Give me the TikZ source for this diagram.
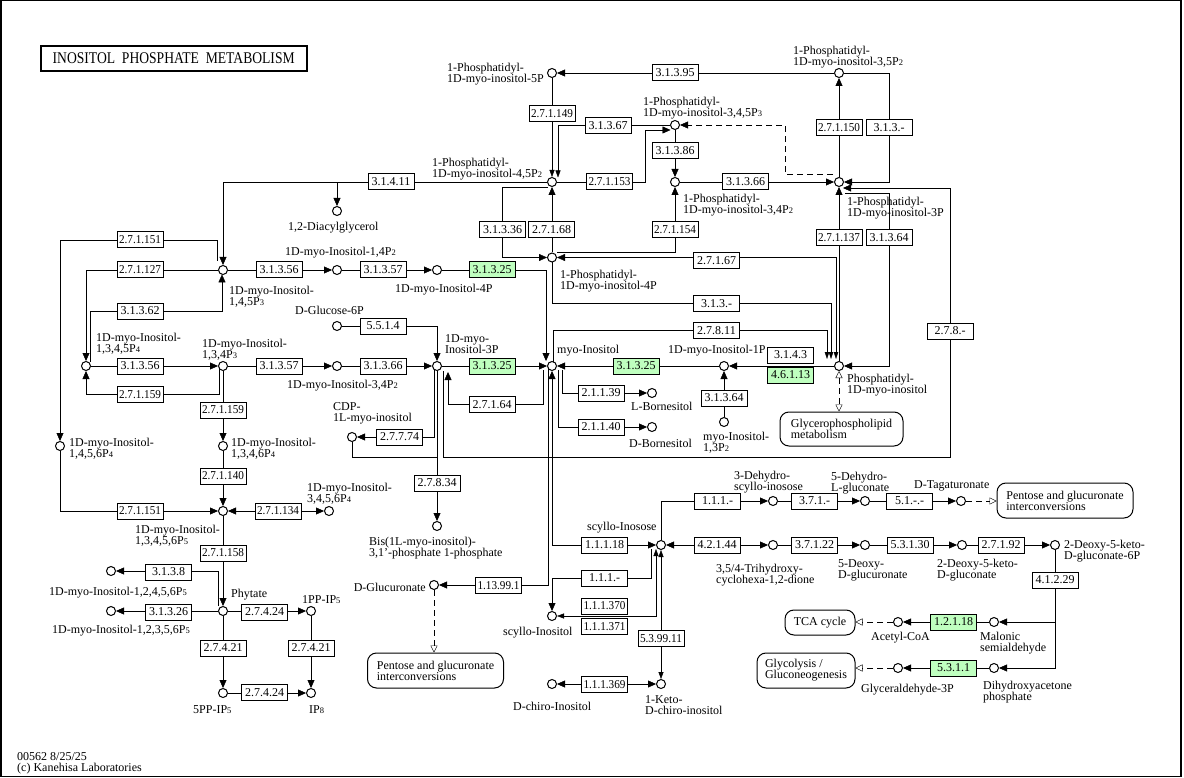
\documentclass[tikz,border=0pt]{standalone}
\usepackage{fontspec}
\setmainfont{Liberation Serif}
\usetikzlibrary{arrows.meta,calc,backgrounds}
\definecolor{kgreen}{RGB}{191,255,191}
\newsavebox\ecbox
\newcommand\ecx[1]{\sbox\ecbox{#1}\ifdim\wd\ecbox>42pt\resizebox{42pt}{\height}{\usebox\ecbox}\else\usebox\ecbox\fi}
\newcommand\sbs[1]{{\fontsize{8.5}{8}\selectfont #1}}
\newcommand\KC[2]{\node[cpd] (#1) at (#2) {};}
\newcommand\KE[3]{\node[enz] (#1) at (#2) {\ecx{#3}};}
\newcommand\KG[3]{\node[genz] (#1) at (#2) {\ecx{#3}};}
\tikzset{
 every node/.append style={font=\fontsize{12}{11}\selectfont},
 cpd/.style={circle,draw,fill=white,minimum size=9pt,inner sep=0pt,line width=1pt},
 enz/.style={draw,fill=white,minimum width=46pt,minimum height=16pt,inner sep=0pt,line width=1pt},
 genz/.style={enz,fill=kgreen},
 mapb/.style={draw,fill=white,rounded corners=9pt,align=left,inner sep=0pt,line width=1pt},
 lbl/.style={inner sep=0pt,align=left,anchor=north west},
 cn/.style={line width=1.2pt,sharp corners},
 dsh/.style={dash pattern=on 6pt off 4pt},
 nar/.style={-{Triangle[length=7pt,width=5pt]}},
 tar/.style={-{Triangle[length=7pt,width=4.5pt]}},
 nrr/.style={{Triangle[length=7pt,width=5pt]}-{Triangle[length=7pt,width=5pt]}},
 oa/.style={dsh,-{Triangle[open,length=7pt,width=7pt]}},
 ooa/.style={dsh,{Triangle[open,length=7pt,width=7pt]}-{Triangle[open,length=7pt,width=7pt]}}
}
\begin{document}
\begin{tikzpicture}[x=1pt,y=-1pt,>={Triangle[length=8pt,width=7pt]}]
\useasboundingbox (0,0) rectangle (1184,778);
\draw[line width=1.5pt] (0.75,0.75) rectangle (1181,776.5);
\node[draw,line width=2pt,minimum width=266pt,minimum height=25pt,inner sep=0pt] (title) at (173.7,58.3) {\fontsize{13.6}{14}\selectfont\scalebox{1}[1.2]{INOSITOL\ \ PHOSPHATE\ \ METABOLISM}};
\node[lbl] (foot) at (17,752) {00562 8/25/25\\(c) Kanehisa Laboratories};
% compounds
\KC{c5P}{552,73} \KC{c35P2}{839,73} \KC{cPIP3}{675,125} \KC{cPIP2}{552,182}
\KC{c34P2}{675,182} \KC{cPI3P}{839,182} \KC{cPI4P}{552,257.5} \KC{cPI}{839,366}
\KC{cMyo}{552,366} \KC{c1P}{724,366} \KC{c13P2}{724,422} \KC{cLB}{652,393}
\KC{cDB}{652,427} \KC{cDAG}{337,211} \KC{cIP3}{223,270} \KC{c14P2}{337,270}
\KC{c4P}{437,270} \KC{cG6P}{337,326} \KC{cIP1345}{86,366} \KC{cIP134}{223,366}
\KC{c34P}{337,366} \KC{c3P}{437,366} \KC{cIP1456}{60,446} \KC{cIP1346}{223,446}
\KC{cIP13456}{223,511} \KC{cIP3456}{329,511} \KC{cPhy}{223,611} \KC{c1PP}{311,611}
\KC{c5PP}{223,693} \KC{cIP8}{311,693} \KC{c12456}{111,571} \KC{c12356}{111,611}
\KC{cCDP}{352,437} \KC{cBis}{437,526} \KC{cGlcA}{434,585} \KC{cSInos}{661,545}
\KC{cSIol}{552,616} \KC{cKeto}{661,684} \KC{cChiro}{552,684} \KC{cTri}{773,545}
\KC{cDehy}{773,501} \KC{c5DLG}{865,501} \KC{cTag}{961,501} \KC{c5DG}{865,545}
\KC{c2D5K}{962,545} \KC{c2D5K6P}{1055,545} \KC{cMal}{994,622} \KC{cAcCoA}{898,622}
\KC{cDHAP}{994,668} \KC{cGA3P}{898,668}
% enzymes
\KE{e31395}{675,73}{3.1.3.95} \KE{e271149}{552,114}{2.7.1.149} \KE{e31367}{608,126}{3.1.3.67}
\KE{e31386}{675,150.5}{3.1.3.86} \KE{e271153}{609.5,182}{2.7.1.153} \KE{e31366a}{745.5,182}{3.1.3.66}
\KE{e31411}{391,182}{3.1.4.11} \KE{e31336}{502.5,229.5}{3.1.3.36} \KE{e27168}{551.5,229.5}{2.7.1.68}
\KE{e271154}{675,229.5}{2.7.1.154} \KE{e271150}{839,128}{2.7.1.150} \KE{e313xa}{889,128}{3.1.3.-}
\KE{e271137}{839,238}{2.7.1.137} \KE{e31364a}{889,238}{3.1.3.64} \KE{e27167}{716.5,260.5}{2.7.1.67}
\KE{e313xb}{716.5,303.5}{3.1.3.-} \KE{e27811}{716.5,330.5}{2.7.8.11} \KE{e3143}{790.5,355}{3.1.4.3}
\KG{e46113}{790.5,375}{4.6.1.13} \KG{e31325c}{636,366}{3.1.3.25} \KE{e278x}{950,331}{2.7.8.-}
\KE{e31364b}{724,398}{3.1.3.64} \KE{e271151a}{140,240}{2.7.1.151} \KE{e271127}{140,270}{2.7.1.127}
\KE{e31356a}{279,270}{3.1.3.56} \KE{e31357a}{383,270}{3.1.3.57} \KG{e31325a}{492,270}{3.1.3.25}
\KE{e31362}{140,311}{3.1.3.62} \KE{e5514}{383,326}{5.5.1.4} \KE{e31356b}{140,366}{3.1.3.56}
\KE{e31357b}{279,366}{3.1.3.57} \KE{e31366b}{383,366}{3.1.3.66} \KG{e31325b}{492,366}{3.1.3.25}
\KE{e271159a}{140,394.5}{2.7.1.159} \KE{e271159b}{223,410}{2.7.1.159} \KE{e271140}{223,476}{2.7.1.140}
\KE{e271151b}{140,511}{2.7.1.151} \KE{e271134}{278,511}{2.7.1.134} \KE{e271158}{223,553}{2.7.1.158}
\KE{e3138}{168.5,572}{3.1.3.8} \KE{e31326}{168.5,612}{3.1.3.26} \KE{e27424a}{264.5,612}{2.7.4.24}
\KE{e27421a}{223,648}{2.7.4.21} \KE{e27421b}{311,648}{2.7.4.21} \KE{e27424b}{264.5,692.5}{2.7.4.24}
\KE{e27164}{492,404.5}{2.7.1.64} \KE{e21139}{601,393}{2.1.1.39} \KE{e21140}{601,427}{2.1.1.40}
\KE{e27774}{399.5,437}{2.7.7.74} \KE{e27834}{437,483}{2.7.8.34} \KE{e113991}{498.5,585.5}{1.13.99.1}
\KE{e11118}{604.5,545}{1.1.1.18} \KE{e111xa}{604.5,578}{1.1.1.-} \KE{e111370}{604.5,606}{1.1.1.370}
\KE{e111371}{604.5,626.5}{1.1.1.371} \KE{e53911}{661,638.5}{5.3.99.11} \KE{e111369}{604.5,684.5}{1.1.1.369}
\KE{e42144}{717,545}{4.2.1.44} \KE{e111xb}{717.5,501}{1.1.1.-} \KE{e371x}{814.5,501}{3.7.1.-}
\KE{e51xx}{909.5,501}{5.1.-.-} \KE{e37122}{814.5,545}{3.7.1.22} \KE{e53130}{910,545}{5.3.1.30}
\KE{e27192}{1001,545}{2.7.1.92} \KE{e41229}{1055,580}{4.1.2.29} \KG{e12118}{953.5,622}{1.2.1.18}
\KG{e5311}{953.5,668}{5.3.1.1}
% maps
\node[mapb,minimum width=136pt,minimum height=35pt] (mPG1) at (1065,500.5) {Pentose and glucuronate\\interconversions};
\node[mapb,minimum width=136pt,minimum height=35pt] (mPG2) at (435.5,670.5) {Pentose and glucuronate\\interconversions};
\node[mapb,minimum width=123pt,minimum height=34pt] (mGPL) at (841.5,429) {Glycerophospholipid\\metabolism};
\node[mapb,minimum width=70pt,minimum height=25pt] (mTCA) at (820,622.5) {TCA cycle};
\node[mapb,minimum width=98pt,minimum height=35pt] (mGly) at (806,670.5) {Glycolysis /\\Gluconeogenesis};
% labels
\node[lbl] (l5P) at (447,62.5) {1-Phosphatidyl-\\1D-myo-inositol-5P};
\node[lbl] (l35P2) at (793,45.5) {1-Phosphatidyl-\\1D-myo-inositol-3,5P\sbs{2}};
\node[lbl] (lPIP3) at (643,97) {1-Phosphatidyl-\\1D-myo-inositol-3,4,5P\sbs{3}};
\node[lbl] (lPIP2) at (432,157.5) {1-Phosphatidyl-\\1D-myo-inositol-4,5P\sbs{2}};
\node[lbl] (l34P2) at (683,194) {1-Phosphatidyl-\\1D-myo-inositol-3,4P\sbs{2}};
\node[lbl] (lPI3P) at (847,196.5) {1-Phosphatidyl-\\1D-myo-inositol-3P};
\node[lbl] (lPI4P) at (560,269.5) {1-Phosphatidyl-\\1D-myo-inositol-4P};
\node[lbl] (lPI) at (847,374) {Phosphatidyl-\\1D-myo-inositol};
\node[lbl] (lMyo) at (557,345) {myo-Inositol};
\node[lbl] (l1P) at (668,345) {1D-myo-Inositol-1P};
\node[lbl] (l13P2) at (703,431.5) {myo-Inositol-\\1,3P\sbs{2}};
\node[lbl] (l3P) at (445,334.5) {1D-myo-\\Inositol-3P};
\node[lbl] (l4P) at (395,283.5) {1D-myo-Inositol-4P};
\node[lbl] (lLB) at (631,401.5) {L-Bornesitol};
\node[lbl] (lDB) at (629,439) {D-Bornesitol};
\node[lbl] (lDAG) at (288,222) {1,2-Diacylglycerol};
\node[lbl] (lIP3) at (229,285.5) {1D-myo-Inositol-\\1,4,5P\sbs{3}};
\node[lbl] (l14P2) at (285,246.5) {1D-myo-Inositol-1,4P\sbs{2}};
\node[lbl] (lG6P) at (295,306) {D-Glucose-6P};
\node[lbl] (lIP1345) at (96,333) {1D-myo-Inositol-\\1,3,4,5P\sbs{4}};
\node[lbl] (lIP134) at (202,338.5) {1D-myo-Inositol-\\1,3,4P\sbs{3}};
\node[lbl] (l34P) at (287,379.5) {1D-myo-Inositol-3,4P\sbs{2}};
\node[lbl] (lIP1456) at (69,438) {1D-myo-Inositol-\\1,4,5,6P\sbs{4}};
\node[lbl] (lIP1346) at (231,438) {1D-myo-Inositol-\\1,3,4,6P\sbs{4}};
\node[lbl] (lIP3456) at (307,482.5) {1D-myo-Inositol-\\3,4,5,6P\sbs{4}};
\node[lbl] (lIP13456) at (135,525) {1D-myo-Inositol-\\1,3,4,5,6P\sbs{5}};
\node[lbl] (lPhy) at (231,589) {Phytate};
\node[lbl] (l1PP) at (302,595) {1PP-IP\sbs{5}};
\node[lbl] (l5PP) at (193,705.5) {5PP-IP\sbs{5}};
\node[lbl] (lIP8) at (309,705.5) {IP\sbs{8}};
\node[lbl] (l12456) at (49,586.5) {1D-myo-Inositol-1,2,4,5,6P\sbs{5}};
\node[lbl] (l12356) at (52,625) {1D-myo-Inositol-1,2,3,5,6P\sbs{5}};
\node[lbl] (lCDP) at (333,402) {CDP-\\1L-myo-inositol};
\node[lbl] (lBis) at (369,537) {Bis(1L-myo-inositol)-\\3,1'-phosphate 1-phosphate};
\node[lbl,anchor=north east] (lGlcA) at (426,582.5) {D-Glucuronate};
\node[lbl] (lSInos) at (587,522) {scyllo-Inosose};
\node[lbl] (lSIol) at (503,627) {scyllo-Inositol};
\node[lbl] (lKeto) at (645,695.5) {1-Keto-\\D-chiro-inositol};
\node[lbl] (lChiro) at (513,702) {D-chiro-Inositol};
\node[lbl] (lTri) at (716,563.5) {3,5/4-Trihydroxy-\\cyclohexa-1,2-dione};
\node[lbl] (lDehy) at (734,471) {3-Dehydro-\\scyllo-inosose};
\node[lbl] (l5DLG) at (831,472) {5-Dehydro-\\L-gluconate};
\node[lbl] (lTag) at (914,480.5) {D-Tagaturonate};
\node[lbl] (l5DG) at (838,559) {5-Deoxy-\\D-glucuronate};
\node[lbl] (l2D5K) at (937,559) {2-Deoxy-5-keto-\\D-gluconate};
\node[lbl] (l6P) at (1064,540) {2-Deoxy-5-keto-\\D-gluconate-6P};
\node[lbl] (lMal) at (980,632) {Malonic\\semialdehyde};
\node[lbl] (lAc) at (871,632) {Acetyl-CoA};
\node[lbl] (lDHAP) at (983,680.5) {Dihydroxyacetone\\phosphate};
\node[lbl] (lGA3P) at (861,684) {Glyceraldehyde-3P};
\coordinate (jDAG) at (340,182);
% connectors
\begin{scope}[on background layer,cn]
\draw[->] (c35P2) -- (c5P);
\draw[->] (c35P2.east) -- (889,73) -- (889,182) -- (cPI3P.east);
\draw[->] (cPI3P) -- (c35P2);
\draw[->] (cPI) -- (cPI3P);
\draw[->] ($(cPI3P)+(6,11)$) -- (889,193) -- (889,366) -- (cPI.east);
\draw[->,dsh] ($(cPI3P)+(-6,-8)$) -- (785,174) -- (785,125) -- (cPIP3.east);
\draw[->] (cPIP3) -- (c34P2);
\draw[->] (c34P2) -- (cPI3P);
\draw[nar] (cPIP3.west) -| ($(cPIP2)+(6,-4.5)$);
\draw[nar] (c5P) -- (cPIP2);
\draw[->] (cPIP2.east) -- (645,182) -- (645,130) -- ($(cPIP3)+(-4.5,5)$);
\draw[->] (cPIP2.west) -| (cIP3.north);
\draw[->] (jDAG) -| (cDAG.north);
\draw[->] ($(cPIP2)+(-4,5)$) -- (502,187) -- (502,257.5) -- (cPI4P.west);
\draw[->] (cPI4P) -- (cPIP2);
\draw[->] ($(cPI4P)+(5,-5.5)$) -| (c34P2.south);
\draw[{Triangle[length=8pt,width=7pt]}-{Triangle[length=7pt,width=4.5pt]}] (cPI4P.east) -- (836,257.5) -- ($(cPI)+(-3,-7)$);
\draw[tar] (cPI4P.south) -- (552,303.5) -- (831,303.5) -- ($(cPI)+(-8,-7)$);
\draw[tar] ($(cMyo)+(1,-4.5)$) -- (553,330) -- (827,330) -- ($(cPI)+(-12,-7)$);
\draw[->] (c4P.east) -- (546,270) -- ($(cMyo)+(-6,-5)$);
\draw[->] (c3P) -- (cMyo);
\draw[->] (c1P) -- (cMyo);
\draw[->] (cPI) -- (c1P);
\draw[->] (c13P2) -- (c1P);
\draw[ooa] (cPI) -- (cPI |- mGPL.north);
\draw[->] (562,370) |- (cLB.west);
\draw[->] (558,370) |- (cDB.west);
\draw[->] ($(cMyo)+(-9,4)$) -- (543,404.5) -- (448,404.5) -- ($(c3P)+(11,6)$);
\draw[->] ($(c3P)+(6,5)$) -- (443,457) -- (950,457) -- (950,188) -- ($(cPI3P)+(4,6)$);
\draw[->] ($(c3P)+(-3,3)$) |- (cCDP.east);
\draw[->] (c3P) -- (cBis);
\draw (cCDP.south) |- (437,457);
\draw[->] (cG6P.east) -| (c3P.north);
\draw[->] ($(cMyo)+(-4,3)$) |- (cGlcA.east);
\draw[<->] (cMyo.south) |- (cSInos.west);
\draw[->] (651,549) -- (651,578) -| (cSIol.north);
\draw[nrr] (cSIol.east) -| ($(cSInos)+(-5,4)$);
\draw[nrr] (cSInos) -- (cKeto);
\draw[<->] (cChiro) -- (cKeto);
\draw[<->] (cSInos) -- (cTri);
\draw[->] (cSInos.north) |- (cDehy.west);
\draw[->] (cDehy) -- (c5DLG);
\draw[->] (c5DLG) -- (cTag);
\draw[oa] (cTag) -- (cTag -| mPG1.west);
\draw[->] (cTri) -- (c5DG);
\draw[->] (c5DG) -- (c2D5K);
\draw[->] (c2D5K) -- (c2D5K6P);
\draw[->] (c2D5K6P.south) |- (cMal.east);
\draw[->] (c2D5K6P.south) |- (cDHAP.east);
\draw[->] (cMal) -- (cAcCoA);
\draw[oa] (cAcCoA) -- (cAcCoA -| mTCA.east);
\draw[->] (cDHAP) -- (cGA3P);
\draw[oa] (cGA3P) -- (cGA3P -| mGly.east);
\draw[oa] (cGlcA) -- (cGlcA |- mPG2.north);
\draw[->] (cIP3) -- (c14P2);
\draw[->] (c14P2) -- (c4P);
\draw[->] ($(cIP3)+(-6,-9)$) -- (217,240) -- (60,240) -- (cIP1456.north);
\draw[->] (cIP3.west) -| (cIP1345.north);
\draw[->] ($(cIP1345)+(4,-4)$) |- (222,311) -- ($(cIP3)+(-1,4.4)$);
\draw[->] (cIP1345) -- (cIP134);
\draw[->] ($(cIP134)+(-4,3)$) |- (86,394.5) -- (cIP1345.south);
\draw[->] (cIP134) -- (cIP1346);
\draw[->] (cIP1346) -- (cIP13456);
\draw[->] (cIP1456.south) |- (cIP13456.west);
\draw[<->] (cIP13456) -- (cIP3456);
\draw[->] (cIP13456) -- (cPhy);
\draw[->] ($(cPhy)+(-5,-5)$) |- (c12456.east);
\draw[->] (cPhy) -- (c12356);
\draw[->] (cPhy) -- (c1PP);
\draw[->] (cPhy) -- (c5PP);
\draw[->] (c1PP) -- (cIP8);
\draw[->] (c5PP) -- (cIP8);
\draw[->] (cIP134) -- (c34P);
\draw[->] (c34P) -- (c3P);
\end{scope}
\end{tikzpicture}
\end{document}
